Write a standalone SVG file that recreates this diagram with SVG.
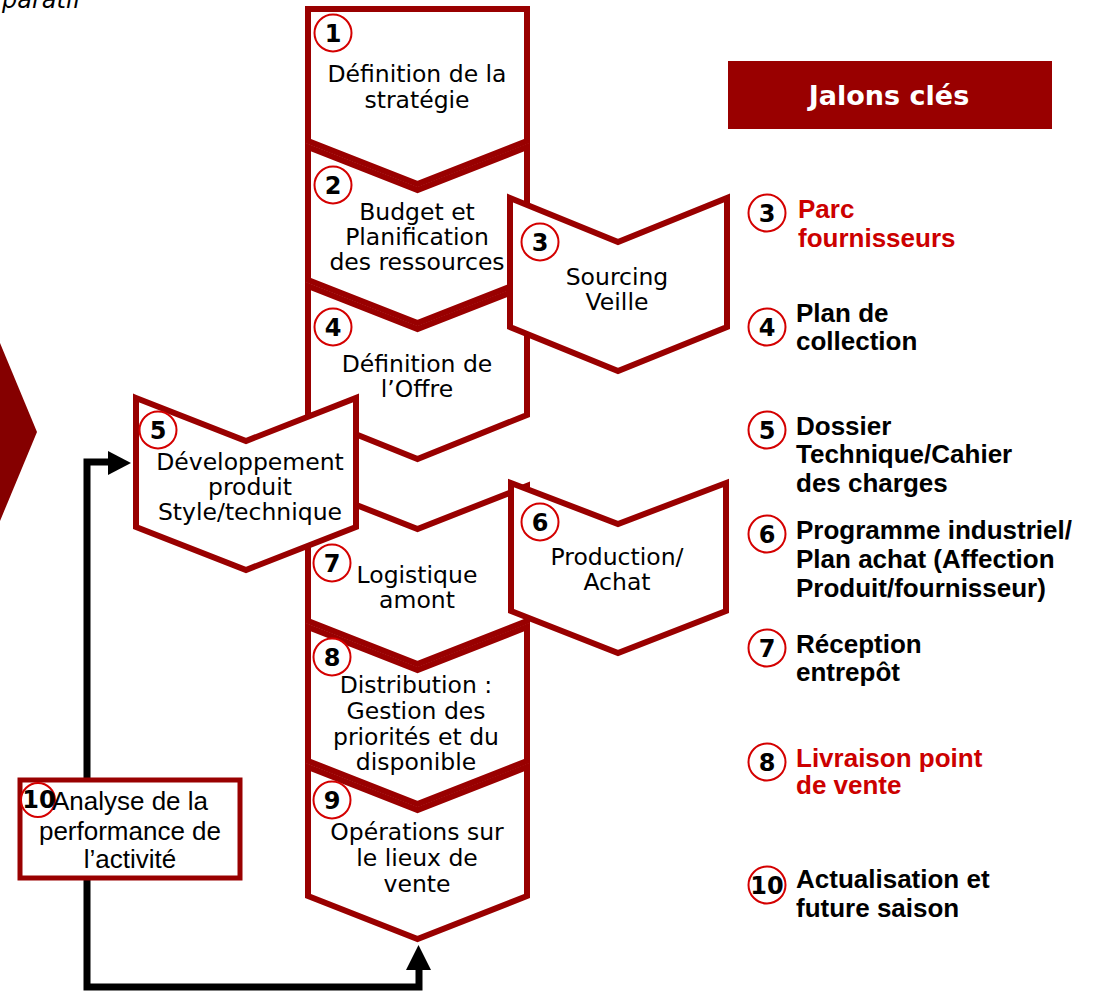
<svg xmlns="http://www.w3.org/2000/svg" width="1095" height="991" viewBox="0 0 1095 991">
<style>
.chev{fill:#fff;stroke:#990000;stroke-width:6;stroke-linejoin:miter}
.num{fill:#fff;stroke:#d40000;stroke-width:2}
.nt{font-family:"DejaVu Sans",Verdana,sans-serif;font-weight:bold;font-size:24px;fill:#000;text-anchor:middle}
.st{font-family:"DejaVu Sans",Verdana,sans-serif;font-size:23.5px;fill:#000;text-anchor:middle}
.lg{font-family:"Liberation Sans",Arial,sans-serif;font-weight:bold;font-size:26px;fill:#000}
.red{fill:#cc0000}
.conn{fill:none;stroke:#000;stroke-width:7}
</style>
<rect width="1095" height="991" fill="#fff"/>
<text x="2" y="8" font-family="DejaVu Sans, Verdana, sans-serif" font-style="italic" font-size="24">paratif</text>
<polygon points="0,343 37,432 0,521" fill="#850000"/>

<g id="connectors">
<polyline class="conn" points="419,968 419,987 87,987 87,462 110,462"/>
<polygon points="108,451 131,463 108,475" fill="#000"/>
<polygon points="406,970 418.5,945 431,970" fill="#000"/>
</g>

<g id="n1">
<polygon class="chev" points="308,9 527,9 527,141 417.5,184 308,141"/>
<circle class="num" cx="333" cy="33" r="18.5"/><text class="nt" x="333" y="42">1</text>
<text class="st" x="417" y="82">Définition de la</text>
<text class="st" x="417" y="108">stratégie</text>
</g>
<g id="n2">
<polygon class="chev" points="308,147 417.5,190 527,147 527,280 417.5,323 308,280"/>
<circle class="num" cx="333" cy="185" r="18.5"/><text class="nt" x="333" y="194">2</text>
<text class="st" x="417" y="220">Budget et</text>
<text class="st" x="417" y="245">Planification</text>
<text class="st" x="417" y="270">des ressources</text>
</g>
<g id="n4">
<polygon class="chev" points="308,286 417.5,329 527,286 527,415 417.5,459 308,415"/>
<circle class="num" cx="333" cy="327" r="18.5"/><text class="nt" x="333" y="336">4</text>
<text class="st" x="417" y="372">Définition de</text>
<text class="st" x="417" y="397">l’Offre</text>
</g>
<g id="n7">
<polygon class="chev" points="308,486 417.5,529 527,486 527,621 417.5,664 308,621"/>
<circle class="num" cx="332" cy="563" r="18.5"/><text class="nt" x="332" y="572">7</text>
<text class="st" x="417" y="583">Logistique</text>
<text class="st" x="417" y="608">amont</text>
</g>
<g id="n8">
<polygon class="chev" points="308,627 417.5,670 527,627 527,761 417.5,804 308,761"/>
<circle class="num" cx="332" cy="657" r="18.5"/><text class="nt" x="332" y="666">8</text>
<text class="st" x="416" y="693">Distribution :</text>
<text class="st" x="416" y="719">Gestion des</text>
<text class="st" x="416" y="745">priorités et du</text>
<text class="st" x="416" y="770">disponible</text>
</g>
<g id="n9">
<polygon class="chev" points="308,767 417.5,810 527,767 527,896 417.5,939 308,896"/>
<circle class="num" cx="332" cy="800" r="18.5"/><text class="nt" x="332" y="809">9</text>
<text class="st" x="417" y="840">Opérations sur</text>
<text class="st" x="417" y="866">le lieux de</text>
<text class="st" x="417" y="892">vente</text>
</g>
<g id="n3">
<polygon class="chev" points="510,198 618,242 727,198 727,327 618,371 510,327"/>
<circle class="num" cx="540" cy="242" r="18.5"/><text class="nt" x="540" y="251">3</text>
<text class="st" x="617" y="285">Sourcing</text>
<text class="st" x="617" y="310">Veille</text>
</g>
<g id="n5">
<polygon class="chev" points="136,398 246,441 356,398 356,527 246,570 136,527"/>
<circle class="num" cx="158" cy="430" r="18.5"/><text class="nt" x="158" y="439">5</text>
<text class="st" x="250" y="470">Développement</text>
<text class="st" x="250" y="495">produit</text>
<text class="st" x="250" y="520">Style/technique</text>
</g>
<g id="n6">
<polygon class="chev" points="511,483 618,524 726,483 726,611 618,653 511,611"/>
<circle class="num" cx="540" cy="522" r="18.5"/><text class="nt" x="540" y="531">6</text>
<text class="st" x="617" y="565">Production/</text>
<text class="st" x="617" y="590">Achat</text>
</g>
<g id="n10">
<rect x="20" y="780" width="220" height="98" fill="#fff" stroke="#990000" stroke-width="5"/>
<circle class="num" cx="38" cy="800" r="17" fill="none"/>
<text x="130" y="810" font-family="Liberation Sans, Arial, sans-serif" font-size="26" text-anchor="middle">Analyse de la</text>
<text x="130" y="840" font-family="Liberation Sans, Arial, sans-serif" font-size="26" text-anchor="middle">performance de</text>
<text x="130" y="868" font-family="Liberation Sans, Arial, sans-serif" font-size="26" text-anchor="middle">l’activité</text>
<text class="nt" x="39" y="808">10</text>
</g>

<g id="jalons">
<rect x="728" y="61" width="324" height="68" fill="#990000"/>
<text x="889" y="105" font-family="DejaVu Sans, Verdana, sans-serif" font-weight="bold" font-size="27" fill="#fff" text-anchor="middle">Jalons clés</text>
</g>

<g id="legend">
<circle class="num" cx="767" cy="213" r="18.5"/><text class="nt" x="767" y="222">3</text>
<text class="lg red" x="798" y="218">Parc</text>
<text class="lg red" x="798" y="247">fournisseurs</text>

<circle class="num" cx="767" cy="327" r="18.5"/><text class="nt" x="767" y="336">4</text>
<text class="lg" x="796" y="322">Plan de</text>
<text class="lg" x="796" y="350">collection</text>

<circle class="num" cx="767" cy="430" r="18.5"/><text class="nt" x="767" y="439">5</text>
<text class="lg" x="796" y="435">Dossier</text>
<text class="lg" x="796" y="463">Technique/Cahier</text>
<text class="lg" x="796" y="492">des charges</text>

<circle class="num" cx="767" cy="534" r="18.5"/><text class="nt" x="767" y="543">6</text>
<text class="lg" x="796" y="539">Programme industriel/</text>
<text class="lg" x="796" y="568">Plan achat (Affection</text>
<text class="lg" x="796" y="597">Produit/fournisseur)</text>

<circle class="num" cx="767" cy="648" r="18.5"/><text class="nt" x="767" y="657">7</text>
<text class="lg" x="796" y="653">Réception</text>
<text class="lg" x="796" y="681">entrepôt</text>

<circle class="num" cx="767" cy="762" r="18.5"/><text class="nt" x="767" y="771">8</text>
<text class="lg red" x="796" y="767">Livraison point</text>
<text class="lg red" x="796" y="794">de vente</text>

<circle class="num" cx="767" cy="885" r="18.5"/><text class="nt" x="767" y="894">10</text>
<text class="lg" x="796" y="888">Actualisation et</text>
<text class="lg" x="796" y="917">future saison</text>
</g>
</svg>
